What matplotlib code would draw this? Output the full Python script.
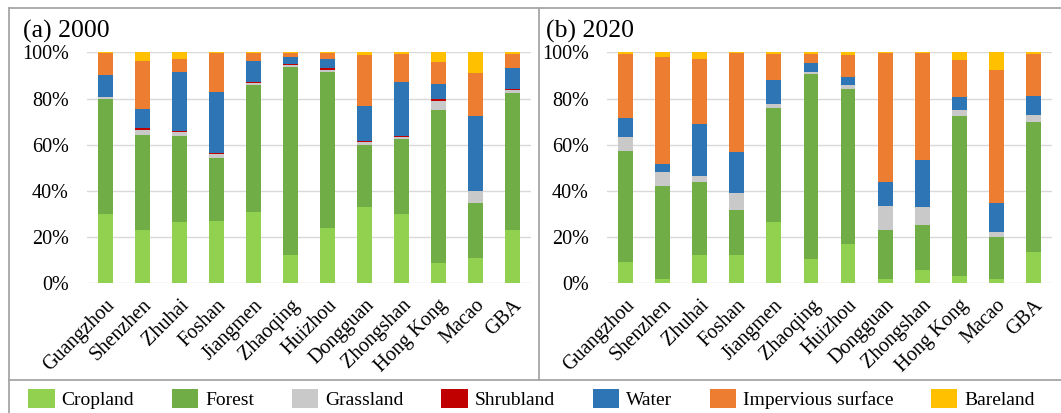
import numpy as np
import matplotlib as mpl
mpl.use('Agg')
import matplotlib.pyplot as plt
from matplotlib.lines import Line2D

mpl.rcParams['font.family'] = 'Liberation Serif'
mpl.rcParams['font.size'] = 14

cities = ['Guangzhou', 'Shenzhen', 'Zhuhai', 'Foshan', 'Jiangmen', 'Zhaoqing',
          'Huizhou', 'Dongguan', 'Zhongshan', 'Hong Kong', 'Macao', 'GBA']
classes = ['Cropland', 'Forest', 'Grassland', 'Shrubland', 'Water',
           'Impervious surface', 'Bareland']
colors = ['#92D050', '#70AD47', '#C9C9C9', '#C00000', '#2E75B6', '#ED7D31', '#FFC000']

# land cover shares (%) per city, one list per class
cropland_2000 = [30.0, 23.1, 26.4, 27.0, 30.9, 12.1, 23.8, 33.2, 30.2, 8.7, 10.8, 23.2]
forest_2000 = [49.8, 41.1, 37.4, 27.3, 55.1, 81.7, 67.7, 26.5, 32.4, 66.3, 24.1, 59.3]
grassland_2000 = [0.7, 2.2, 1.9, 1.7, 0.7, 0.7, 1.0, 1.3, 0.9, 4.1, 5.1, 1.0]
shrubland_2000 = [0.3, 0.8, 0.2, 0.2, 0.6, 0.5, 0.7, 0.5, 0.3, 0.6, 0.0, 0.6]
water_2000 = [9.4, 8.4, 25.7, 26.5, 9.1, 3.1, 3.9, 15.3, 23.5, 6.6, 32.6, 9.0]
impervious_2000 = [9.5, 20.8, 5.5, 16.9, 3.5, 1.6, 2.6, 22.2, 12.0, 9.7, 18.3, 6.2]
bareland_2000 = [0.3, 3.6, 2.9, 0.4, 0.1, 0.3, 0.3, 1.0, 0.7, 4.0, 9.1, 0.7]

cropland_2020 = [9.2, 2.0, 12.1, 12.4, 26.7, 10.7, 17.2, 2.0, 5.9, 3.0, 1.7, 13.7]
forest_2020 = [48.1, 40.3, 31.8, 19.5, 49.2, 80.1, 66.8, 21.2, 19.5, 69.4, 18.5, 56.3]
grassland_2020 = [6.2, 5.8, 2.7, 7.3, 1.9, 0.7, 1.7, 10.3, 7.8, 2.6, 2.0, 3.0]
shrubland_2020 = [0.0, 0.0, 0.0, 0.0, 0.0, 0.0, 0.0, 0.0, 0.0, 0.0, 0.0, 0.0]
water_2020 = [8.1, 3.7, 22.5, 17.7, 10.2, 3.7, 3.6, 10.2, 20.2, 5.5, 12.6, 8.0]
impervious_2020 = [27.5, 46.3, 28.2, 43.0, 11.4, 4.1, 9.7, 55.9, 46.2, 16.0, 57.4, 18.1]
bareland_2020 = [0.9, 1.9, 2.7, 0.1, 0.6, 0.7, 1.0, 0.4, 0.4, 3.5, 7.8, 0.9]

data_2000 = [cropland_2000, forest_2000, grassland_2000, shrubland_2000,
             water_2000, impervious_2000, bareland_2000]
data_2020 = [cropland_2020, forest_2020, grassland_2020, shrubland_2020,
             water_2020, impervious_2020, bareland_2020]

W, H = 1061, 413
fig = plt.figure(figsize=(W / 100, H / 100), dpi=100)


def px_axes(left, right, top, bottom):
    return fig.add_axes([left / W, 1 - bottom / H, (right - left) / W, (bottom - top) / H])


def stacked(ax, data):
    x = np.arange(len(cities))
    bottom = np.zeros(len(cities))
    handles = []
    for values, color, label in zip(data, colors, classes):
        values = np.array(values)
        h = ax.bar(x, values, 0.4, bottom=bottom, color=color, label=label,
                   linewidth=0, zorder=3)
        handles.append(h)
        bottom += values
    ax.set_xlim(-0.5, len(cities) - 0.5)
    ax.set_ylim(0, 100)
    ax.set_yticks(np.arange(0, 101, 20))
    ax.set_yticklabels(['{}%'.format(v) for v in range(0, 101, 20)])
    ax.set_xticks(x)
    ax.set_xticklabels(cities, rotation=45, ha='right', va='top', rotation_mode='anchor')
    ax.tick_params(axis='both', length=0, labelsize=14.5)
    ax.tick_params(axis='y', pad=13)
    ax.tick_params(axis='x', pad=9)
    ax.grid(axis='y', color='#D9D9D9', linewidth=1.0, zorder=0)
    for s in ax.spines.values():
        s.set_visible(False)
    return handles


ax1 = px_axes(87, 531, 52.3, 283.3)
handles = stacked(ax1, data_2000)
ax2 = px_axes(607, 1052, 52.3, 283.3)
stacked(ax2, data_2020)

fig.text(23 / W, 1 - 38 / H, '(a) 2000', fontsize=18.5, va='baseline')
fig.text(546 / W, 1 - 38 / H, '(b) 2020', fontsize=18.5, va='baseline')

# panel frame lines
frame = dict(color='#A6A6A6', linewidth=1.3, transform=fig.transFigure)
fig.add_artist(Line2D([9 / W, 1], [1 - 8 / H, 1 - 8 / H], **frame))
fig.add_artist(Line2D([9 / W, 9 / W], [0, 1 - 8 / H], **frame))
fig.add_artist(Line2D([539 / W, 539 / W], [1 - 380 / H, 1 - 8 / H], **frame))
fig.add_artist(Line2D([9 / W, 1], [1 - 380 / H, 1 - 380 / H], **frame))

fig.legend(handles=handles, labels=classes, loc='center',
           bbox_to_anchor=(531.5 / W, 1 - 399 / H), ncol=7, frameon=False,
           fontsize=14, handlelength=1.35, handleheight=1.15, handletextpad=0.35,
           columnspacing=1.95, borderpad=0, borderaxespad=0)

fig.savefig('out.png', dpi=100)
